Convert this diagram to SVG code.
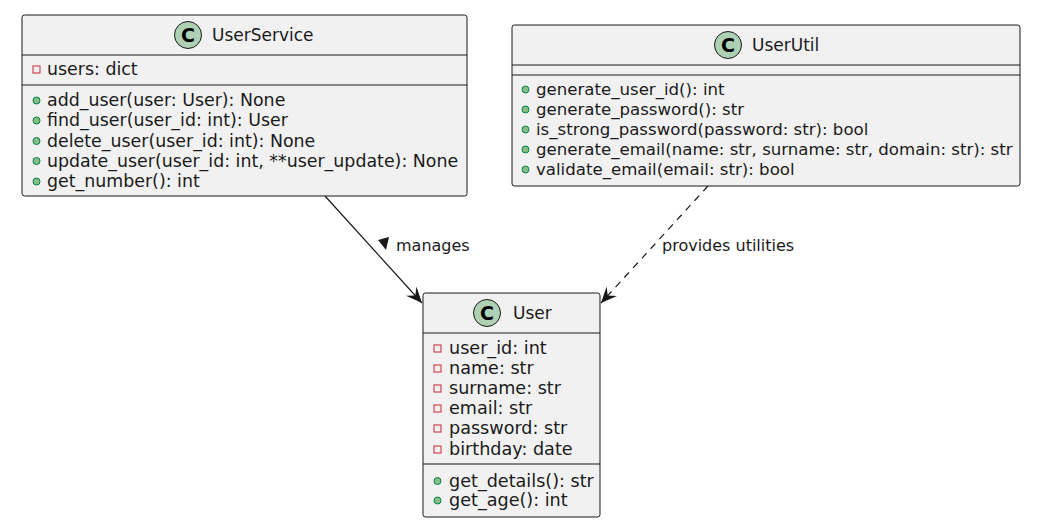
<svg xmlns="http://www.w3.org/2000/svg" width="1062" height="530" viewBox="0 0 1062 530">
<defs>
<style>
.box{fill:#F1F1F1;stroke:#181818;stroke-width:1}
.div{stroke:#181818;stroke-width:1}
.t{font-family:"DejaVu Sans",sans-serif;font-size:17.4px;fill:#1a1a1a}
#UserUtil .t{font-size:16.6px}
#User .t{font-size:17.6px}
.title{font-family:"DejaVu Sans",sans-serif;font-size:17px;fill:#1a1a1a}
.lbl{font-family:"DejaVu Sans",sans-serif;font-size:16px;fill:#1a1a1a}
.cc{fill:#ADD1B2;stroke:#181818;stroke-width:1}
.cl{font-family:"DejaVu Sans",sans-serif;font-size:19px;font-weight:bold;fill:#000}
.priv{fill:none;stroke:#C82930;stroke-width:1}
.pub{fill:#84BE84;stroke:#038048;stroke-width:1}
.edge{stroke:#181818;stroke-width:1.2;fill:none}
</style>
<marker id="arr" viewBox="0 0 20 20" refX="18" refY="10" markerWidth="20" markerHeight="20" markerUnits="userSpaceOnUse" orient="auto">
<path d="M18,10 L2,3 L8,10 L2,17 Z" fill="#181818"/>
</marker>
</defs>
<rect width="1062" height="530" fill="#FFFFFF"/>

<g id="UserService">
<rect class="box" x="22" y="15" width="445" height="181" rx="2.5"/>
<circle class="cc" cx="188" cy="35" r="13.5"/>
<text class="cl" x="188" y="42" text-anchor="middle">C</text>
<text class="title" x="212" y="41">UserService</text>
<line class="div" x1="22" y1="55" x2="467" y2="55"/>
<rect class="priv" x="33" y="66" width="7" height="7"/>
<text class="t" x="47" y="75">users: dict</text>
<line class="div" x1="22" y1="85" x2="467" y2="85"/>
<circle class="pub" cx="36.5" cy="100.5" r="3.5"/>
<text class="t" x="47" y="106">add_user(user: User): None</text>
<circle class="pub" cx="36.5" cy="120.5" r="3.5"/>
<text class="t" x="47" y="126">find_user(user_id: int): User</text>
<circle class="pub" cx="36.5" cy="141" r="3.5"/>
<text class="t" x="47" y="147">delete_user(user_id: int): None</text>
<circle class="pub" cx="36.5" cy="161" r="3.5"/>
<text class="t" x="47" y="167">update_user(user_id: int, **user_update): None</text>
<circle class="pub" cx="36.5" cy="181.5" r="3.5"/>
<text class="t" x="47" y="187">get_number(): int</text>
</g>

<g id="UserUtil">
<rect class="box" x="512" y="25" width="508" height="161" rx="2.5"/>
<circle class="cc" cx="728" cy="45" r="13.5"/>
<text class="cl" x="728" y="52" text-anchor="middle">C</text>
<text class="title" x="752" y="51">UserUtil</text>
<line class="div" x1="512" y1="65" x2="1020" y2="65"/>
<line class="div" x1="512" y1="75" x2="1020" y2="75"/>
<circle class="pub" cx="525.5" cy="89.5" r="3.5"/>
<text class="t" x="536" y="95">generate_user_id(): int</text>
<circle class="pub" cx="525.5" cy="109.5" r="3.5"/>
<text class="t" x="536" y="115">generate_password(): str</text>
<circle class="pub" cx="525.5" cy="129.5" r="3.5"/>
<text class="t" x="536" y="135">is_strong_password(password: str): bool</text>
<circle class="pub" cx="525.5" cy="149.5" r="3.5"/>
<text class="t" x="536" y="155">generate_email(name: str, surname: str, domain: str): str</text>
<circle class="pub" cx="525.5" cy="169.5" r="3.5"/>
<text class="t" x="536" y="175">validate_email(email: str): bool</text>
</g>

<g id="User">
<rect class="box" x="423" y="293" width="177" height="224" rx="2.5"/>
<circle class="cc" cx="487" cy="313" r="13.5"/>
<text class="cl" x="487" y="320" text-anchor="middle">C</text>
<text class="title" x="513" y="319">User</text>
<line class="div" x1="423" y1="333" x2="600" y2="333"/>
<rect class="priv" x="434" y="345" width="7" height="7"/>
<text class="t" x="449" y="354">user_id: int</text>
<rect class="priv" x="434" y="365" width="7" height="7"/>
<text class="t" x="449" y="374">name: str</text>
<rect class="priv" x="434" y="385" width="7" height="7"/>
<text class="t" x="449" y="394">surname: str</text>
<rect class="priv" x="434" y="405" width="7" height="7"/>
<text class="t" x="449" y="414">email: str</text>
<rect class="priv" x="434" y="425" width="7" height="7"/>
<text class="t" x="449" y="434">password: str</text>
<rect class="priv" x="434" y="446" width="7" height="7"/>
<text class="t" x="449" y="455">birthday: date</text>
<line class="div" x1="423" y1="464" x2="600" y2="464"/>
<circle class="pub" cx="437.5" cy="481" r="3.5"/>
<text class="t" x="449" y="487">get_details(): str</text>
<circle class="pub" cx="437.5" cy="500.5" r="3.5"/>
<text class="t" x="449" y="506">get_age(): int</text>
</g>

<g id="connectors">
<line class="edge" x1="325" y1="196" x2="422" y2="303" marker-end="url(#arr)"/>
<polygon points="378,240 389,237 386,250" fill="#181818"/>
<text class="lbl" x="396" y="251">manages</text>
<line class="edge" x1="708" y1="186" x2="601" y2="303" stroke-dasharray="7,6" marker-end="url(#arr)"/>
<text class="lbl" x="662" y="251">provides utilities</text>
</g>
</svg>
